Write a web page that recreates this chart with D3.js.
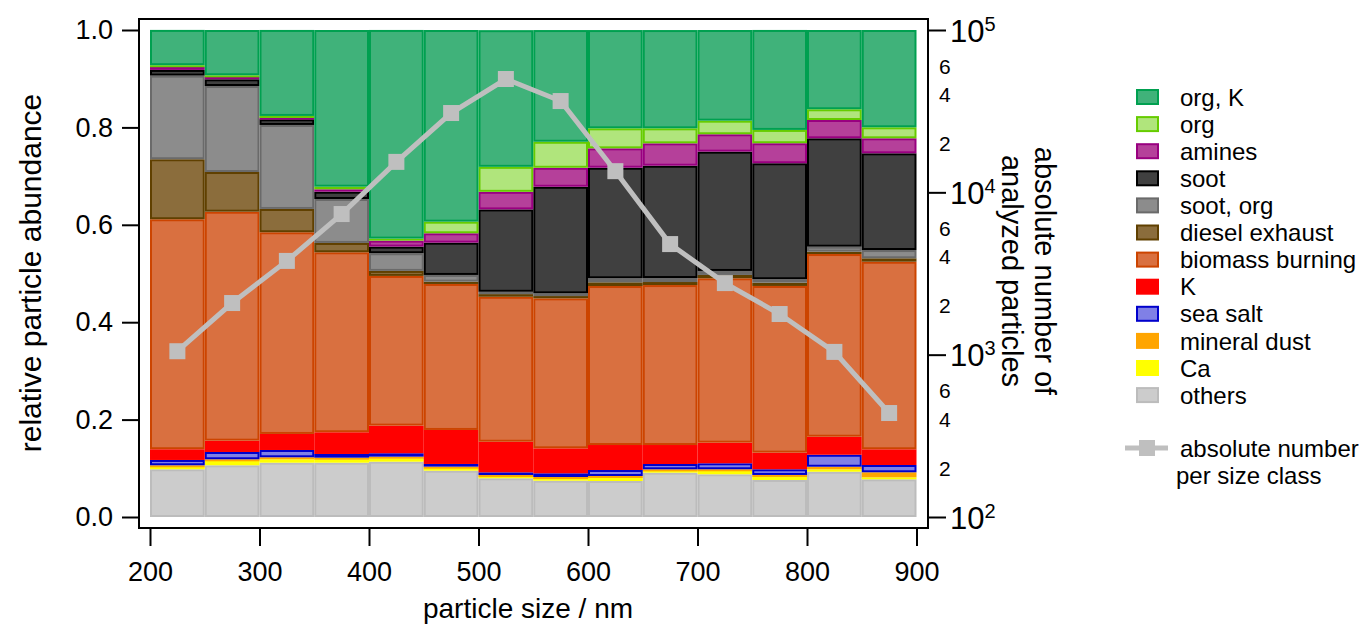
<!DOCTYPE html>
<html><head><meta charset="utf-8">
<script src="https://cdn.jsdelivr.net/npm/d3@7"></script>
<style>body{margin:0;background:#fff} text{font-family:"Liberation Sans",Arial,Helvetica,sans-serif;fill:#000}</style>
</head><body><svg id="c" width="1365" height="626"></svg>
<script>
// size class lower edges (nm), each bin is 50 nm wide
const binStart = [200,250,300,350,400,450,500,550,600,650,700,750,800,850];
const binWidth = 50;

// relative abundance per class (bottom → top of stack)
const others   = [0.098,0.1062,0.1115,0.1115,0.1136,0.0951,0.0795,0.0745,0.0739,0.091,0.0877,0.076,0.093,0.0774];
const ca       = [0.0053,0.0094,0.007,0.007,0.007,0.0062,0.0053,0.0062,0.0076,0.0055,0.0074,0.0068,0.0049,0.0041];
const mineral  = [0.0029,0.0029,0.0041,0.0033,0.0033,0.0021,0.0014,0.0014,0.0027,0.0014,0.0029,0.0035,0.0053,0.0103];
const seaSalt  = [0.0109,0.015,0.015,0.0076,0.007,0.0055,0.0055,0.0076,0.0123,0.0109,0.0123,0.0117,0.0246,0.015];
const kOnly    = [0.022,0.0232,0.0329,0.0446,0.0567,0.0698,0.0628,0.0513,0.0513,0.039,0.0423,0.0341,0.037,0.0322];
const biomass  = [0.4723,0.4702,0.4142,0.3696,0.3074,0.2998,0.2977,0.308,0.3265,0.3285,0.3376,0.3423,0.3752,0.3852];
const diesel   = [0.1232,0.0815,0.0478,0.0191,0.0103,0.0047,0.0055,0.0047,0.0076,0.0062,0.0068,0.0068,0.0047,0.007];
const sootOrg  = [0.1717,0.1766,0.1725,0.0903,0.0363,0.0138,0.0047,0.0055,0.0082,0.0082,0.0082,0.007,0.0103,0.017];
const soot     = [0.0117,0.0138,0.0117,0.015,0.0136,0.0663,0.1692,0.2189,0.2271,0.2306,0.245,0.2382,0.2226,0.1986];
const amines   = [0.0062,0.0053,0.0033,0.0049,0.0123,0.0193,0.0361,0.039,0.0398,0.046,0.0357,0.0411,0.0376,0.0308];
const org      = [0.0035,0.0029,0.0035,0.0053,0.0041,0.0238,0.0513,0.0534,0.0411,0.0308,0.0279,0.0273,0.022,0.0226];
const orgK     = [0.0725,0.093,0.1766,0.3218,0.4285,0.3936,0.2807,0.2294,0.2018,0.2018,0.1862,0.2053,0.1628,0.1998];

// absolute number of analyzed particles per size class
const counts = [1050,2080,3780,7350,15400,30800,49900,36500,13500,4800,2760,1780,1040,437];

const yTicks = [0,0.2,0.4,0.6,0.8,1.0];
const xTicks = [200,300,400,500,600,700,800,900];

const seriesDefs = [
  {key:"others", label:"others", data:others, fill:"#cccccc", stroke:"#bcbcbc"},
  {key:"ca", label:"Ca", data:ca, fill:"#ffff00", stroke:"#ffff00"},
  {key:"mineral", label:"mineral dust", data:mineral, fill:"#ffa500", stroke:"#ffa500"},
  {key:"seaSalt", label:"sea salt", data:seaSalt, fill:"#8080e6", stroke:"#0000cc"},
  {key:"kOnly", label:"K", data:kOnly, fill:"#ff0000", stroke:"#ff0000"},
  {key:"biomass", label:"biomass burning", data:biomass, fill:"#d97040", stroke:"#cc4400"},
  {key:"diesel", label:"diesel exhaust", data:diesel, fill:"#8b6d3c", stroke:"#604000"},
  {key:"sootOrg", label:"soot, org", data:sootOrg, fill:"#8c8c8c", stroke:"#6a6a6a"},
  {key:"soot", label:"soot", data:soot, fill:"#404040", stroke:"#000000"},
  {key:"amines", label:"amines", data:amines, fill:"#b5409a", stroke:"#990080"},
  {key:"org", label:"org", data:org, fill:"#b0e57c", stroke:"#66cc00"},
  {key:"orgK", label:"org, K", data:orgK, fill:"#40b27a", stroke:"#00a050"}
];

const rows = binStart.map((b,i)=>{
  const r = {bin:b};
  seriesDefs.forEach(s=>r[s.key]=s.data[i]);
  return r;
});

const svg = d3.select("#c");
const x = d3.scaleLinear().domain([200,900]).range([150,916.5]);
const y = d3.scaleLinear().domain([0,1]).range([517,30]);
const yR = d3.scaleLog().domain([100,1e5]).range([517,30]);

const frameL=139, frameR=928, frameT=19, frameB=528;
const FONT = "Liberation Sans, Arial, sans-serif";

const stack = d3.stack().keys(seriesDefs.map(s=>s.key));
const layers = stack(rows);

const gBars = svg.append("g");
layers.forEach((layer,li)=>{
  const s = seriesDefs[li];
  gBars.append("g").selectAll("rect").data(layer).join("rect")
    .attr("x", d=>x(d.data.bin)+1)
    .attr("width", d=>x(d.data.bin+binWidth)-x(d.data.bin)-2)
    .attr("y", d=>y(d[1])+1)
    .attr("height", d=>Math.max(0.01, y(d[0])-y(d[1])-2))
    .attr("fill", s.fill)
    .attr("stroke", s.stroke)
    .attr("stroke-width", 2);
});

// line with markers
const line = d3.line().x((d,i)=>x(binStart[i]+binWidth/2)).y(d=>yR(d));
svg.append("path").datum(counts).attr("d", line)
  .attr("fill","none").attr("stroke","#bfbfbf").attr("stroke-width",5);
svg.append("g").selectAll("rect").data(counts).join("rect")
  .attr("x",(d,i)=>x(binStart[i]+binWidth/2)-8)
  .attr("y",d=>yR(d)-8).attr("width",16).attr("height",16)
  .attr("fill","#bfbfbf");

// frame
svg.append("rect").attr("x",frameL).attr("y",frameT)
  .attr("width",frameR-frameL).attr("height",frameB-frameT)
  .attr("fill","none").attr("stroke","#000").attr("stroke-width",2);

// left axis
const gL = svg.append("g").attr("transform",`translate(${frameL},0)`);
gL.call(d3.axisLeft(y).tickValues(d3.range(0,1.0001,0.05)).tickSize(10).tickFormat(""));
gL.call(d3.axisLeft(y).tickValues(yTicks).tickSize(17).tickPadding(9).tickFormat(d3.format(".1f")));
gL.selectAll(".domain").remove();
gL.selectAll("line").attr("stroke-width",2);
gL.selectAll("text").style("font-size","27px").style("font-family",FONT);

// bottom axis
const gB = svg.append("g").attr("transform",`translate(0,${frameB})`);
gB.call(d3.axisBottom(x).tickValues(d3.range(200,901,50)).tickSize(10).tickFormat(""));
gB.call(d3.axisBottom(x).tickValues(xTicks).tickSize(18).tickPadding(16).tickFormat(d3.format("d")));
gB.selectAll(".domain").remove();
gB.selectAll("line").attr("stroke-width",2);
gB.selectAll("text").style("font-size","27px").style("font-family",FONT);

// right axis (log)
const gR = svg.append("g").attr("transform",`translate(${frameR},0)`);
const minorVals = [];
[100,1000,10000].forEach(dec=>{for(let m=2;m<=9;m++) minorVals.push(dec*m);});
gR.call(d3.axisRight(yR).tickValues(minorVals).tickSize(9).tickFormat(""));
gR.call(d3.axisRight(yR).tickValues([100,1000,10000,100000]).tickSize(18).tickFormat(""));
gR.selectAll(".domain").remove();
gR.selectAll("line").attr("stroke-width",2);
const mant = v => Math.round(v/Math.pow(10,Math.floor(Math.log10(v)+1e-9)));
const labeledMinor = minorVals.filter(v=>[2,4,6].includes(mant(v)));
gR.selectAll("text.minor").data(labeledMinor).join("text").attr("class","minor")
  .attr("x",11).attr("y",d=>yR(d)).attr("dy","0.36em")
  .style("font-size","21px").style("font-family",FONT)
  .text(d=>mant(d));
const majors = gR.selectAll("text.major").data([100,1000,10000,100000]).join("text").attr("class","major")
  .attr("x",22).attr("y",d=>yR(d)).attr("dy","0.38em")
  .style("font-size","31px").style("font-family",FONT);
majors.append("tspan").text("10");
majors.append("tspan").attr("dy","-0.55em").style("font-size","20px").text(d=>Math.round(Math.log10(d)));

// axis titles
svg.append("text").attr("transform","translate(41,273) rotate(-90)")
  .attr("text-anchor","middle").style("font-size","30px").text("relative particle abundance");
svg.append("text").attr("x",528).attr("y",618).attr("text-anchor","middle")
  .style("font-size","28px").text("particle size / nm");
const rt = svg.append("text").attr("transform","translate(1045,271) rotate(90)")
  .attr("text-anchor","middle").style("font-size","29px");
rt.append("tspan").attr("x",0).attr("dy","0.35em").text("absolute number of");
rt.append("tspan").attr("x",0).attr("dy","1.15em").text("analyzed particles");

// legend
const legendOrder = seriesDefs.slice().reverse();
const gLeg = svg.append("g");
legendOrder.forEach((s,i)=>{
  const cy = 97 + i*27.1;
  gLeg.append("rect").attr("x",1137).attr("y",cy-7).attr("width",21).attr("height",14)
    .attr("fill",s.fill).attr("stroke",s.stroke).attr("stroke-width",2);
  gLeg.append("text").attr("x",1180).attr("y",cy).attr("dy","0.36em")
    .style("font-size","24px").text(s.label);
});
gLeg.append("line").attr("x1",1125).attr("x2",1168).attr("y1",448).attr("y2",448)
  .attr("stroke","#bfbfbf").attr("stroke-width",5);
gLeg.append("rect").attr("x",1139).attr("y",440).attr("width",16).attr("height",16).attr("fill","#bfbfbf");
gLeg.append("text").attr("x",1180).attr("y",448).attr("dy","0.36em").style("font-size","24px").text("absolute number");
gLeg.append("text").attr("x",1176).attr("y",475).attr("dy","0.36em").style("font-size","24px").text("per size class");
</script></body></html>
